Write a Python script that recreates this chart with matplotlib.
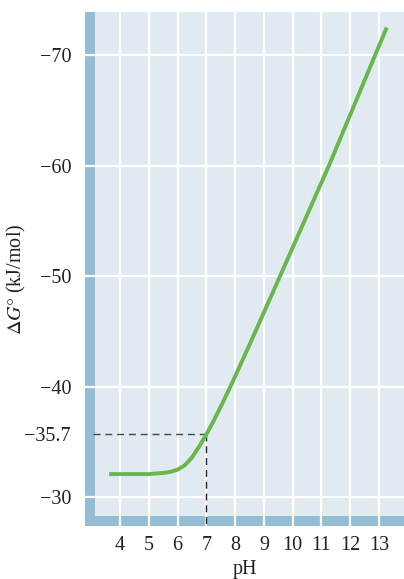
import matplotlib
matplotlib.use("Agg")
import matplotlib.pyplot as plt
from matplotlib.patches import Rectangle

plt.rcParams['font.family'] = ['Liberation Serif', 'DejaVu Serif']
plt.rcParams['mathtext.fontset'] = 'stix'

# free energy of hydrolysis vs pH
ph = [3.62, 4.5, 5.0, 5.5, 5.75, 6.0, 6.25, 6.5, 6.75, 7.0, 7.25, 7.5, 7.87, 8.5, 9.56, 11.26, 13.27]
dg = [-32.1, -32.1, -32.1, -32.2, -32.3, -32.5, -32.9, -33.6, -34.6, -35.7, -36.9, -38.2, -40.2, -43.8, -50.0, -60.0, -72.5]

ph_mark = 7
dg_mark = -35.7

x_ticks = [4, 5, 6, 7, 8, 9, 10, 11, 12, 13]
y_grid = [-70, -60, -50, -40, -30]
y_ticks = [-70, -60, -50, -40, -35.7, -30]
y_ticklabels = ["\u221270", "\u221260", "\u221250", "\u221240", "\u221235.7", "\u221230"]

fig = plt.figure(figsize=(4.04, 5.79), dpi=100)
ax = fig.add_axes([0.2104, 0.0915, 0.7896, 0.8878])

x0, x1 = 2.78, 13.87
y0, y1 = -27.4, -73.9
ax.set_xlim(x0, x1)
ax.set_ylim(y0, y1)

# dark frame on left and bottom, light panel inside
ax.set_facecolor('#93bdd3')
ax.add_patch(Rectangle((3.13, -28.28), x1 - 3.13, y1 - (-28.28),
                       facecolor='#e1e9f1', edgecolor='none', zorder=0.1))

for x in x_ticks:
    ax.axvline(x, color='white', lw=1.6, zorder=0.5)
for y in y_grid:
    ax.axhline(y, color='white', lw=1.6, zorder=0.5)

ax.plot(ph, dg, color='#67b74d', lw=2.8, solid_capstyle='butt', zorder=3)

ax.plot([3.05, ph_mark], [dg_mark, dg_mark], color='#444444', lw=1.0,
        ls=(0, (5, 3.5)), zorder=2)
ax.plot([ph_mark, ph_mark], [dg_mark, y0], color='#222222', lw=1.0,
        ls=(0, (5, 3.5)), zorder=2)

ax.set_xticks(x_ticks)
ax.set_xticklabels([str(v) for v in x_ticks])
ax.set_yticks(y_ticks)
ax.set_yticklabels(y_ticklabels)
ax.tick_params(length=0, labelsize=14.5, colors='#222222')
ax.tick_params(axis='x', pad=7)
ax.tick_params(axis='y', pad=10)

for s in ax.spines.values():
    s.set_visible(False)

ax.set_xlabel('pH', fontsize=14.5, color='#222222', labelpad=4)
ax.set_ylabel(r'$\mathrm{\Delta}G\degree$ (kJ/mol)', fontsize=14.5, color='#222222')
ax.yaxis.set_label_coords(-0.178, 0.48)

fig.savefig('out.png', dpi=100)
